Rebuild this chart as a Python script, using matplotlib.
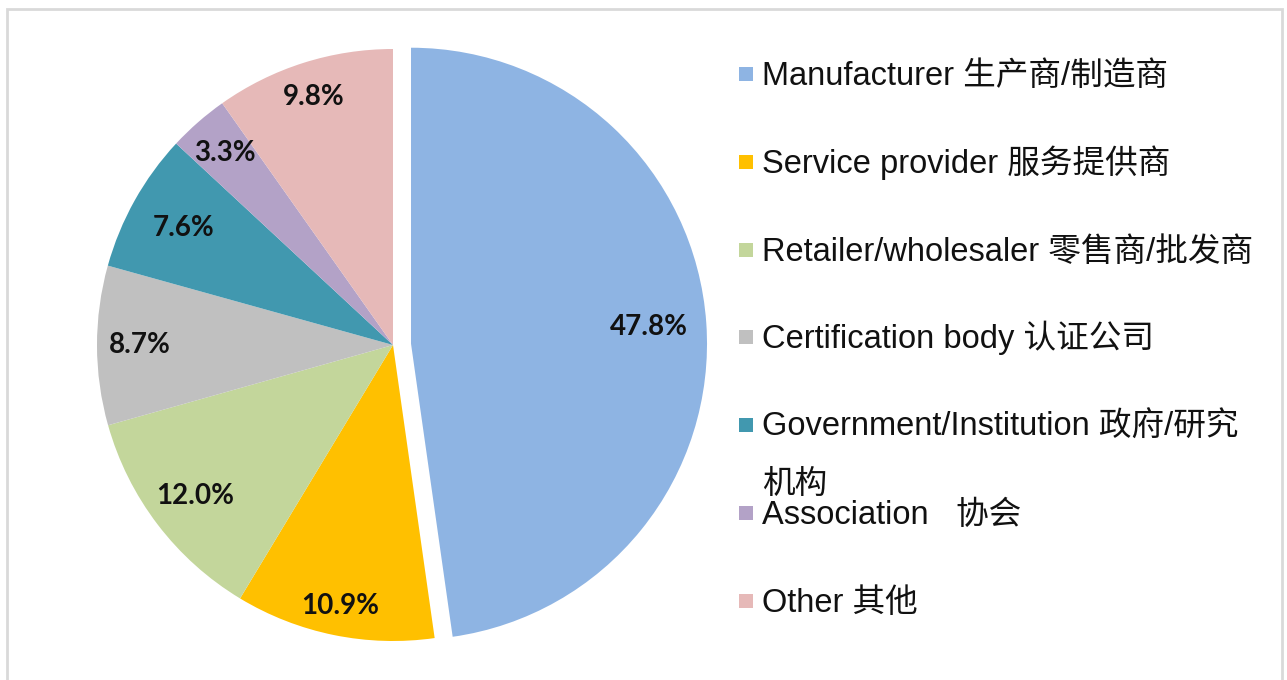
import numpy as np
import matplotlib
matplotlib.use("Agg")
import matplotlib.pyplot as plt
from matplotlib.patches import Rectangle

categories = [
    "Manufacturer 生产商/制造商",
    "Service provider 服务提供商",
    "Retailer/wholesaler 零售商/批发商",
    "Certification body 认证公司",
    "Government/Institution 政府/研究\n机构",
    "Association   协会",
    "Other 其他",
]
shares = [47.8, 10.9, 12.0, 8.7, 7.6, 3.3, 9.8]
colors = ["#8EB4E3", "#FFC000", "#C3D69B", "#C0C0C0", "#4198AF", "#B3A2C7", "#E6B9B8"]

W, H = 1287, 680
fig = plt.figure(figsize=(W / 100, H / 100), dpi=100)
fig.patch.set_facecolor("white")

# pie axes: data units = pie radius
cx, cy, R = 393, 345, 296
ax = fig.add_axes([0, 0, 1, 1])

explode = [0.061, 0, 0, 0, 0, 0, 0]
wedges, _ = ax.pie(shares, colors=colors, startangle=90, counterclock=False,
                   explode=explode, radius=1.0, center=(0, 0),
                   wedgeprops=dict(linewidth=0))
ax.set_xlim(-cx / R, (W - cx) / R)
ax.set_ylim((cy - H) / R, cy / R)
ax.set_aspect("equal")
ax.axis("off")

label_dist = [0.805, 0.90, 0.84, 0.855, 0.81, 0.86, 0.88]
for w, v, d in zip(wedges, shares, label_dist):
    ang = np.deg2rad((w.theta1 + w.theta2) / 2)
    x0, y0 = w.center
    ax.text(x0 + d * np.cos(ang), y0 + d * np.sin(ang), f"{v:.1f}%",
            ha="center", va="center", fontsize=20, fontweight="bold",
            family=["Lato", "DejaVu Sans"], color="#111111")

# legend drawn manually
fam = ["Liberation Sans", "Noto Sans CJK SC"]
row0, step = 85, 87.8
for i, (lab, c) in enumerate(zip(categories, colors)):
    base = row0 + i * step
    fig.patches.append(Rectangle((739 / W, 1 - (base - 4) / H), 14 / W, 14 / H,
                                 transform=fig.transFigure, facecolor=c,
                                 edgecolor="none"))
    lines = lab.split("\n")
    for j, ln in enumerate(lines):
        fig.text(762 / W, 1 - (base + j * 57) / H, ln, ha="left", va="baseline",
                 fontsize=23.5, family=fam, color="#111111")

# light frame
fig.patches.append(Rectangle((7 / W, -0.05), (1282 - 7) / W, 1.05 - 9 / H,
                             transform=fig.transFigure, facecolor="none",
                             edgecolor="#D9D9D9", linewidth=2))

fig.savefig("out.png", dpi=100)
